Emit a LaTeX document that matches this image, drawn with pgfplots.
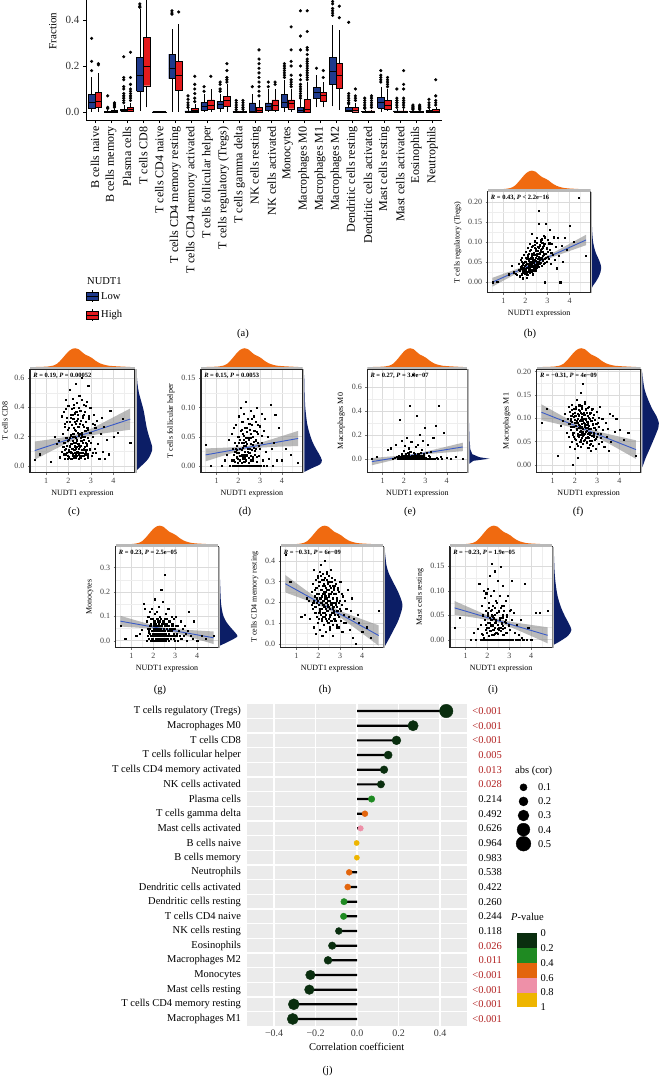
\documentclass[border=0pt]{standalone}
\usepackage{fontspec}
\setmainfont{Liberation Serif}
\usepackage{pgfplots}
\usepackage{pgfplotstable}
\pgfplotsset{compat=1.18}
\pgfplotsset{/pgf/number format/assume math mode=true}
\newcommand{\fs}[1]{\fontsize{#1}{#1}\selectfont}

\definecolor{lowc}{HTML}{1F3A8C}
\definecolor{highc}{HTML}{E31A1C}
\definecolor{orc}{HTML}{F06A10}
\definecolor{nvc}{HTML}{0C1E66}
\definecolor{regblue}{HTML}{3A5BC7}
\definecolor{pc0}{HTML}{0A2E0F}
\definecolor{pc2}{HTML}{1F8A22}
\definecolor{pc4}{HTML}{E3650C}
\definecolor{pc6}{HTML}{EE90A8}
\definecolor{pc8}{HTML}{EEB500}
\definecolor{pr}{HTML}{B22222}

% boxplot outliers (x = box centre, y = fraction)
\pgfplotstableread{
x y
-0.21 0.32
-0.21 0.22
-0.21 0.18
0.21 0.21
0.21 0.205
0.79 0.07
0.79 0.02
0.79 0.015
1.21 0.04
1.21 0.035
1.21 0.03
1.21 0.025
1.21 0.02
1.79 0.04
1.79 0.05
1.79 0.06
1.79 0.07
1.79 0.08
1.79 0.1
1.79 0.11
1.79 0.14
1.79 0.15
1.79 0.24
2.21 0.05
2.21 0.06
2.21 0.07
2.21 0.08
2.21 0.09
2.21 0.1
2.21 0.12
2.21 0.15
2.21 0.26
2.79 0.46
2.79 0.47
2.79 0.455
4.79 0.44
4.79 0.43
4.79 0.425
5.21 0.435
5.79 0.02
5.79 0.03
5.79 0.04
5.79 0.055
5.79 0.07
6.21 0.045
6.21 0.06
6.21 0.08
6.21 0.1
6.21 0.12
6.21 0.155
6.79 0.09
6.79 0.11
7.21 0.155
7.79 0.09
7.79 0.1
7.79 0.12
7.79 0.13
8.21 0.13
8.21 0.14
8.21 0.15
8.21 0.18
8.21 0.21
8.79 0.01
8.79 0.02
8.79 0.03
8.79 0.04
8.79 0.05
9.21 0.012
9.21 0.02
9.21 0.03
9.21 0.04
9.21 0.05
9.79 0.11
10.21 0.07
10.21 0.09
10.21 0.11
10.21 0.13
10.21 0.15
10.21 0.17
10.21 0.19
10.21 0.21
10.21 0.23
10.21 0.27
10.79 0.11
10.79 0.13
11.21 0.12
11.21 0.13
11.79 0.15
11.79 0.16
11.79 0.17
11.79 0.18
11.79 0.19
11.79 0.2
11.79 0.21
12.21 0.11
12.21 0.12
12.21 0.13
12.21 0.14
12.21 0.16
12.21 0.2
12.21 0.22
12.21 0.27
12.21 0.37
12.79 0.06
12.79 0.07
12.79 0.08
12.79 0.09
12.79 0.1
12.79 0.11
12.79 0.12
12.79 0.14
12.79 0.16
12.79 0.2
12.79 0.27
12.79 0.33
12.79 0.44
13.21 0.14
13.21 0.15
13.21 0.16
13.21 0.17
13.21 0.18
13.21 0.19
13.21 0.2
13.21 0.21
13.21 0.22
13.21 0.23
13.21 0.25
13.21 0.27
13.21 0.28
13.21 0.35
13.21 0.44
13.79 0.19
14.21 0.15
14.21 0.18
14.79 0.42
14.79 0.43
14.79 0.44
14.79 0.45
14.79 0.47
14.79 0.48
14.79 0.49
15.21 0.41
15.21 0.46
15.79 0.035
15.79 0.04
15.79 0.05
15.79 0.06
15.79 0.07
15.79 0.08
15.79 0.39
16.21 0.05
16.21 0.06
16.21 0.07
16.21 0.1
16.79 0.015
16.79 0.02
16.79 0.03
16.79 0.04
16.79 0.05
16.79 0.06
17.21 0.02
17.21 0.03
17.21 0.04
17.21 0.05
17.21 0.06
17.21 0.07
17.79 0.13
17.79 0.14
17.79 0.15
17.79 0.16
17.79 0.18
18.21 0.11
18.21 0.12
18.21 0.13
18.21 0.14
18.21 0.15
18.79 0.02
18.79 0.03
18.79 0.04
18.79 0.05
18.79 0.06
18.79 0.1
19.21 0.02
19.21 0.03
19.21 0.04
19.21 0.05
19.21 0.06
19.21 0.1
19.21 0.12
19.21 0.18
19.79 0.01
19.79 0.015
19.79 0.02
19.79 0.025
19.79 0.03
20.21 0.01
20.21 0.015
20.21 0.02
20.21 0.025
20.21 0.03
20.79 0.02
20.79 0.03
20.79 0.04
20.79 0.055
21.21 0.03
21.21 0.04
21.21 0.05
21.21 0.07
21.21 0.14
}\outl

% scatter data: NUDT1 expression (x) and immune fractions
\pgfplotstableread{
x b c d e f g h i
0.50 0.000 0.04 0.036 0.005 0.090 0.060 0.43 0.025
0.72 0.002 0.08 0.000 0.02 0.120 0.010 0.30 0.045
1.22 0.020 0.03 0.000 0.08 0.020 0.020 0.13 0.000
1.38 0.040 0.20 0.010 0.09 0.085 0.030 0.14 0.015
1.47 0.025 0.15 0.020 0.00 0.095 0.045 0.22 0.000
1.56 0.022 0.17 0.045 0.01 0.110 0.150 0.21 0.022
1.62 0.018 0.06 0.000 0.12 0.070 0.130 0.12 0.115
1.68 0.032 0.34 0.055 0.02 0.100 0.000 0.25 0.000
1.71 0.045 0.10 0.010 0.00 0.125 0.080 0.19 0.030
1.73 0.028 0.22 0.030 0.01 0.060 0.020 0.17 0.012
1.75 0.015 0.13 0.000 0.00 0.088 0.050 0.29 0.070
1.77 0.055 0.37 0.065 0.03 0.040 0.100 0.20 0.000
1.79 0.034 0.08 0.020 0.33 0.115 0.010 0.08 0.050
1.81 0.020 0.16 0.000 0.00 0.100 0.040 0.36 0.100
1.83 0.042 0.27 0.040 0.02 0.075 0.030 0.15 0.005
1.85 0.060 0.05 0.008 0.00 0.130 0.120 0.26 0.000
1.86 0.030 0.45 0.025 0.01 0.050 0.060 0.18 0.085
1.88 0.010 0.12 0.000 0.04 0.092 0.000 0.31 0.040
1.90 0.048 0.19 0.070 0.00 0.110 0.070 0.05 0.020
1.91 0.036 0.09 0.015 0.15 0.000 0.040 0.22 0.000
1.93 0.025 0.33 0.000 0.00 0.083 0.010 0.27 0.060
1.94 0.068 0.14 0.035 0.01 0.070 0.130 0.13 0.095
1.96 0.040 0.07 0.005 0.03 0.120 0.030 0.33 0.015
1.97 0.022 0.25 0.050 0.00 0.060 0.020 0.21 0.000
1.99 0.052 0.41 0.012 0.07 0.098 0.090 0.10 0.035
2.00 0.030 0.11 0.000 0.00 0.035 0.050 0.28 0.105
2.02 0.075 0.18 0.085 0.02 0.105 0.000 0.19 0.000
2.03 0.044 0.06 0.022 0.00 0.085 0.060 0.24 0.050
2.05 0.012 0.30 0.000 0.11 0.125 0.110 0.35 0.025
2.06 0.058 0.13 0.045 0.01 0.055 0.020 0.16 0.008
2.07 0.036 0.52 0.010 0.00 0.095 0.040 0.07 0.075
2.08 0.026 0.09 0.030 0.02 0.078 0.170 0.30 0.000
2.09 0.063 0.21 0.000 0.00 0.140 0.010 0.20 0.045
2.10 0.047 0.35 0.060 0.04 0.045 0.070 0.26 0.130
2.11 0.018 0.10 0.018 0.00 0.100 0.030 0.14 0.018
2.12 0.085 0.15 0.000 0.01 0.068 0.000 0.38 0.000
2.13 0.039 0.28 0.100 0.18 0.110 0.050 0.22 0.060
2.14 0.054 0.05 0.028 0.00 0.090 0.090 0.11 0.030
2.15 0.029 0.39 0.005 0.02 0.015 0.020 0.31 0.000
2.16 0.070 0.12 0.040 0.00 0.118 0.040 0.17 0.090
2.17 0.042 0.22 0.000 0.05 0.080 0.120 0.23 0.040
2.18 0.033 0.08 0.075 0.00 0.060 0.010 0.04 0.010
2.19 0.095 0.46 0.015 0.01 0.105 0.060 0.28 0.000
2.20 0.050 0.17 0.032 0.00 0.128 0.030 0.19 0.155
2.21 0.024 0.32 0.000 0.03 0.072 0.080 0.34 0.050
2.22 0.060 0.11 0.055 0.00 0.050 0.000 0.13 0.020
2.23 0.038 0.26 0.008 0.09 0.095 0.140 0.25 0.000
2.24 0.080 0.07 0.020 0.00 0.085 0.050 0.21 0.070
2.25 0.046 0.40 0.000 0.02 0.155 0.020 0.09 0.030
2.26 0.027 0.14 0.090 0.00 0.065 0.070 0.29 0.000
2.27 0.065 0.20 0.040 0.44 0.112 0.040 0.18 0.100
2.28 0.052 0.09 0.012 0.01 0.040 0.010 0.40 0.045
2.29 0.120 0.36 0.000 0.00 0.100 0.100 0.15 0.010
2.30 0.041 0.16 0.065 0.06 0.088 0.030 0.24 0.000
2.31 0.031 0.56 0.025 0.00 0.070 0.060 0.32 0.065
2.32 0.072 0.12 0.000 0.01 0.120 0.000 0.12 0.035
2.33 0.055 0.24 0.048 0.00 0.058 0.090 0.20 0.000
2.34 0.020 0.06 0.110 0.14 0.098 0.050 0.27 0.140
2.35 0.090 0.31 0.010 0.00 0.175 0.020 0.06 0.025
2.36 0.049 0.18 0.035 0.02 0.078 0.210 0.22 0.000
2.37 0.037 0.43 0.000 0.00 0.045 0.040 0.35 0.080
2.39 0.068 0.10 0.058 0.03 0.108 0.070 0.16 0.040
2.40 0.057 0.27 0.018 0.70 0.090 0.010 0.26 0.000
2.42 0.102 0.15 0.000 0.00 0.065 0.160 0.19 0.055
2.43 0.044 0.35 0.080 0.01 0.135 0.030 0.30 0.015
2.45 0.030 0.08 0.030 0.00 0.082 0.080 0.10 0.000
2.46 0.078 0.21 0.005 0.05 0.055 0.050 0.23 0.120
2.48 0.062 0.48 0.045 0.00 0.100 0.000 0.33 0.030
2.50 0.050 0.13 0.000 0.02 0.072 0.270 0.17 0.000
2.51 0.110 0.29 0.062 0.00 0.118 0.040 0.08 0.060
2.53 0.039 0.07 0.022 0.10 0.048 0.060 0.28 0.020
2.54 0.070 0.38 0.000 0.00 0.092 0.020 0.21 0.000
2.56 0.088 0.19 0.095 0.01 0.060 0.110 0.14 0.090
2.57 0.045 0.11 0.038 0.00 0.105 0.030 0.36 0.040
2.59 0.145 0.60 0.010 0.36 0.080 0.070 0.19 0.000
2.60 0.064 0.23 0.000 0.02 0.038 0.010 0.25 0.150
2.62 0.177 0.09 0.070 0.00 0.125 0.050 0.11 0.025
2.63 0.056 0.33 0.028 0.04 0.085 0.090 0.30 0.000
2.65 0.092 0.16 0.000 0.00 0.068 0.020 0.22 0.070
2.66 0.047 0.42 0.050 0.12 0.100 0.040 0.04 0.035
2.68 0.076 0.12 0.015 0.00 0.052 0.130 0.18 0.000
2.69 0.105 0.27 0.085 0.03 0.112 0.000 0.27 0.110
2.71 0.060 0.05 0.000 0.00 0.078 0.060 0.15 0.045
2.72 0.083 0.37 0.042 0.20 0.030 0.030 0.24 0.010
2.74 0.040 0.20 0.020 0.00 0.095 0.080 0.31 0.000
2.76 0.098 0.10 0.060 0.01 0.062 0.020 0.12 0.060
2.78 0.066 0.30 0.000 0.05 0.120 0.050 0.20 0.025
2.80 0.053 0.14 0.075 0.00 0.042 0.010 0.29 0.000
2.82 0.115 0.44 0.030 0.08 0.088 0.100 0.09 0.080
2.84 0.071 0.08 0.008 0.00 0.070 0.040 0.22 0.035
2.86 0.048 0.25 0.100 0.02 0.108 0.060 0.16 0.000
2.88 0.095 0.55 0.040 0.00 0.055 0.020 0.26 0.050
2.89 0.000 0.17 0.000 0.15 0.080 0.070 0.14 0.015
2.91 0.145 0.32 0.055 0.00 0.098 0.030 0.20 0.000
2.93 0.062 0.11 0.018 0.04 0.035 0.090 0.08 0.090
2.95 0.085 0.23 0.000 0.00 0.075 0.010 0.25 0.030
2.97 0.050 0.40 0.068 0.26 0.115 0.050 0.17 0.000
3.00 0.105 0.16 0.030 0.01 0.060 0.020 0.30 0.060
3.03 0.075 0.07 0.000 0.00 0.090 0.100 0.11 0.020
3.06 0.058 0.29 0.090 0.05 0.045 0.030 0.19 0.000
3.09 0.130 0.20 0.040 0.00 0.082 0.060 0.06 0.120
3.12 0.080 0.35 0.010 0.12 0.125 0.000 0.23 0.040
3.15 0.045 0.12 0.060 0.00 0.068 0.040 0.14 0.000
3.19 0.095 0.26 0.000 0.02 0.050 0.020 0.21 0.055
3.23 0.068 0.09 0.080 0.00 0.100 0.080 0.10 0.015
3.27 0.112 0.31 0.025 0.06 0.075 0.010 0.17 0.000
3.32 0.055 0.15 0.000 0.00 0.040 0.050 0.26 0.030
3.37 0.088 0.05 0.050 0.18 0.090 0.020 0.13 0.000
3.42 0.035 0.22 0.012 0.00 0.060 0.060 0.07 0.010
3.48 0.110 0.33 0.105 0.28 0.078 0.030 0.16 0.000
3.53 0.065 0.10 0.030 0.01 0.030 0.000 0.22 0.040
3.58 0.000 0.27 0.000 0.00 0.110 0.040 0.03 0.005
3.63 0.090 0.05 0.040 0.44 0.050 0.120 0.12 0.000
3.70 0.050 0.18 0.088 0.02 0.105 0.020 0.00 0.115
3.78 0.110 0.08 0.010 0.00 0.072 0.010 0.14 0.000
3.86 0.080 0.38 0.065 0.22 0.100 0.080 0.10 0.025
4.00 0.140 0.20 0.010 0.01 0.075 0.000 0.06 0.000
4.20 0.100 0.23 0.030 0.00 0.055 0.020 0.08 0.055
4.40 0.210 0.32 0.020 0.02 0.070 0.010 0.03 0.055
4.75 0.065 0.16 0.005 0.00 0.020 0.020 0.16 0.060
1.84 0.035 0.11 0.000 0.01 0.105 0.050 0.23 0.000
1.92 0.028 0.30 0.028 0.00 0.070 0.000 0.20 0.030
1.98 0.050 0.05 0.000 0.02 0.113 0.030 0.32 0.000
2.04 0.020 0.19 0.050 0.00 0.090 0.080 0.15 0.065
2.135 0.058 0.12 0.000 0.03 0.062 0.010 0.26 0.000
2.165 0.034 0.35 0.020 0.00 0.128 0.040 0.12 0.028
2.205 0.046 0.07 0.000 0.01 0.080 0.000 0.21 0.000
2.245 0.026 0.22 0.045 0.00 0.095 0.060 0.29 0.048
2.275 0.072 0.13 0.000 0.06 0.050 0.020 0.18 0.000
2.315 0.040 0.29 0.015 0.00 0.110 0.030 0.23 0.012
2.355 0.052 0.09 0.000 0.02 0.068 0.050 0.14 0.000
2.385 0.033 0.17 0.038 0.00 0.100 0.010 0.31 0.035
2.44 0.085 0.40 0.000 0.01 0.085 0.040 0.18 0.000
2.47 0.043 0.14 0.022 0.00 0.120 0.070 0.24 0.022
2.52 0.067 0.06 0.000 0.04 0.058 0.020 0.13 0.000
2.58 0.038 0.21 0.048 0.00 0.090 0.060 0.20 0.045
2.64 0.074 0.34 0.000 0.01 0.070 0.010 0.28 0.000
2.70 0.058 0.11 0.032 0.00 0.045 0.040 0.16 0.028
2.77 0.087 0.24 0.000 0.03 0.095 0.020 0.11 0.000
2.83 0.046 0.15 0.058 0.00 0.065 0.050 0.21 0.040
1.80 0.038 0.13 0.010 0.00 0.095 0.035 0.21 0.010
1.82 0.050 0.29 0.000 0.02 0.082 0.060 0.18 0.000
1.87 0.027 0.08 0.030 0.00 0.118 0.020 0.27 0.040
1.89 0.044 0.39 0.000 0.01 0.066 0.090 0.15 0.000
1.95 0.033 0.17 0.022 0.00 0.104 0.010 0.24 0.025
2.01 0.061 0.10 0.000 0.03 0.091 0.040 0.30 0.000
2.015 0.025 0.26 0.040 0.00 0.056 0.070 0.12 0.055
2.055 0.047 0.14 0.000 0.01 0.121 0.030 0.22 0.000
2.085 0.069 0.05 0.018 0.00 0.076 0.000 0.17 0.035
2.115 0.036 0.33 0.000 0.02 0.099 0.060 0.33 0.000
2.145 0.054 0.09 0.062 0.00 0.042 0.020 0.20 0.018
2.175 0.028 0.20 0.000 0.01 0.108 0.050 0.26 0.000
2.195 0.078 0.12 0.012 0.00 0.087 0.010 0.15 0.062
2.215 0.043 0.42 0.000 0.04 0.064 0.090 0.24 0.000
2.235 0.059 0.16 0.035 0.00 0.116 0.030 0.09 0.028
2.255 0.032 0.06 0.000 0.01 0.073 0.060 0.31 0.000
2.265 0.066 0.25 0.052 0.00 0.097 0.000 0.19 0.044
2.285 0.045 0.11 0.000 0.02 0.055 0.040 0.22 0.000
2.295 0.088 0.30 0.008 0.00 0.103 0.020 0.13 0.020
2.305 0.039 0.08 0.000 0.00 0.081 0.080 0.28 0.000
2.325 0.062 0.19 0.042 0.01 0.126 0.010 0.17 0.052
2.345 0.051 0.37 0.000 0.00 0.062 0.050 0.25 0.000
2.365 0.029 0.13 0.020 0.03 0.094 0.030 0.11 0.015
2.375 0.074 0.07 0.000 0.00 0.071 0.000 0.34 0.000
2.395 0.048 0.23 0.066 0.01 0.113 0.060 0.20 0.038
2.41 0.057 0.10 0.000 0.00 0.052 0.020 0.16 0.000
2.425 0.093 0.32 0.025 0.02 0.089 0.040 0.29 0.075
2.435 0.041 0.15 0.000 0.00 0.107 0.010 0.21 0.000
2.455 0.068 0.05 0.048 0.00 0.068 0.070 0.12 0.030
2.465 0.053 0.27 0.000 0.05 0.131 0.030 0.26 0.000
2.475 0.082 0.12 0.014 0.00 0.079 0.050 0.18 0.012
2.49 0.036 0.38 0.000 0.01 0.058 0.000 0.23 0.000
2.505 0.071 0.09 0.072 0.00 0.097 0.020 0.07 0.058
2.515 0.047 0.22 0.000 0.02 0.074 0.090 0.30 0.000
2.525 0.099 0.14 0.030 0.00 0.112 0.040 0.14 0.025
2.545 0.058 0.06 0.000 0.00 0.049 0.010 0.24 0.000
2.555 0.042 0.31 0.055 0.03 0.086 0.060 0.19 0.042
2.565 0.079 0.17 0.000 0.00 0.122 0.030 0.11 0.000
2.585 0.063 0.09 0.018 0.01 0.067 0.000 0.27 0.018
2.595 0.052 0.45 0.000 0.00 0.092 0.050 0.20 0.000
2.615 0.087 0.20 0.080 0.00 0.058 0.020 0.15 0.065
2.625 0.045 0.11 0.000 0.02 0.101 0.070 0.32 0.000
2.645 0.072 0.28 0.036 0.00 0.077 0.040 0.09 0.032
2.655 0.058 0.07 0.000 0.01 0.043 0.010 0.22 0.000
2.675 0.101 0.18 0.010 0.00 0.109 0.060 0.17 0.050
2.685 0.049 0.35 0.000 0.04 0.064 0.030 0.26 0.000
2.705 0.081 0.13 0.060 0.00 0.095 0.000 0.12 0.022
2.725 0.062 0.24 0.000 0.00 0.070 0.080 0.20 0.000
2.745 0.107 0.08 0.026 0.02 0.118 0.020 0.28 0.070
2.765 0.055 0.16 0.000 0.00 0.052 0.050 0.14 0.000
2.785 0.077 0.41 0.044 0.01 0.086 0.010 0.19 0.036
2.81 0.068 0.11 0.000 0.00 0.101 0.040 0.24 0.000
2.835 0.092 0.26 0.016 0.03 0.061 0.070 0.08 0.015
2.855 0.059 0.06 0.000 0.00 0.079 0.020 0.18 0.000
2.875 0.112 0.19 0.070 0.00 0.097 0.050 0.27 0.048
2.92 0.070 0.34 0.000 0.02 0.057 0.030 0.13 0.000
2.96 0.083 0.12 0.034 0.00 0.088 0.000 0.21 0.028
3.01 0.064 0.23 0.000 0.01 0.067 0.060 0.16 0.000
3.08 0.097 0.09 0.052 0.00 0.102 0.020 0.24 0.062
3.17 0.073 0.28 0.000 0.03 0.058 0.040 0.10 0.000
}\scd

% confidence bands of the linear fits (upper edge left->right, lower edge right->left)
\pgfplotstableread{
xp bp cp dp ep fp gp hp ip
0.5 0.011 0.167 0.030 0.008 0.130 0.102 0.332 0.079
1.0 0.0208 0.1776 0.0307 0.0153 0.1166 0.0888 0.2926 0.0691
1.5 0.0306 0.1888 0.0315 0.0228 0.1033 0.0758 0.2537 0.0593
2.0 0.0408 0.2017 0.0326 0.0312 0.0904 0.0634 0.2159 0.0499
2.45 0.0509 0.219 0.0346 0.0415 0.0805 0.0543 0.1858 0.0428
3.0 0.0659 0.2544 0.0396 0.0609 0.0722 0.0481 0.1584 0.0372
3.5 0.0805 0.2926 0.0452 0.0814 0.0663 0.0447 0.1378 0.0335
4.0 0.0954 0.3323 0.0510 0.1028 0.0609 0.0418 0.1181 0.0302
4.75 0.1179 0.3925 0.0599 0.1351 0.0529 0.0377 0.0891 0.0254
4.75 0.0921 0.2475 0.0341 0.0649 0.0131 -0.0137 -0.0091 -0.0074
4.0 0.0776 0.2319 0.0332 0.0542 0.0333 0.0062 0.0501 0.0076
3.5 0.0677 0.221 0.0324 0.0468 0.0467 0.0193 0.0892 0.0173
3.0 0.0577 0.2086 0.0314 0.0387 0.0596 0.0319 0.1274 0.0268
2.45 0.0455 0.1882 0.0292 0.0265 0.0721 0.0433 0.1648 0.0358
2.0 0.0334 0.1601 0.0252 0.011 0.079 0.0486 0.1877 0.0405
1.5 0.0188 0.1224 0.0197 -0.0094 0.0851 0.0522 0.2087 0.0443
1.0 0.0040 0.083 0.0139 -0.0306 0.0906 0.0552 0.2286 0.0477
0.5 -0.011 0.043 0.008 -0.052 0.096 0.058 0.248 0.051
}\bnd

% marginal densities
\pgfplotstableread{
x d
0.45 0
0.8 0.01
1.1 0.03
1.3 0.07
1.5 0.18
1.7 0.42
1.9 0.70
2.05 0.88
2.2 0.98
2.3 1.0
2.45 0.95
2.6 0.80
2.75 0.66
2.9 0.58
3.05 0.48
3.2 0.34
3.4 0.20
3.6 0.12
3.8 0.07
4.0 0.05
4.3 0.03
4.8 0
}\topden
\pgfplotstableread{
d y
0 -0.015
0.15 -0.008
0.4 0.0
0.7 0.012
0.92 0.025
1.0 0.035
0.9 0.047
0.68 0.06
0.45 0.072
0.28 0.085
0.15 0.1
0.07 0.12
0.03 0.14
0.01 0.17
0 0.21
}\denB
\pgfplotstableread{
d y
0 -0.03
0.3 0.0
0.75 0.05
1.0 0.11
0.95 0.15
0.8 0.2
0.65 0.26
0.55 0.32
0.45 0.38
0.3 0.44
0.15 0.5
0.06 0.56
0 0.64
}\denC
\pgfplotstableread{
d y
0 -0.01
0.4 -0.004
0.9 0.003
1.0 0.01
0.85 0.02
0.65 0.03
0.45 0.042
0.3 0.055
0.17 0.07
0.08 0.09
0.03 0.11
0 0.155
}\denD
\pgfplotstableread{
d y
0 -0.04
0.2 -0.015
1.0 0.002
0.5 0.015
0.15 0.04
0.05 0.08
0.02 0.15
0 0.3
}\denE
\pgfplotstableread{
d y
0 -0.005
0.2 0.015
0.45 0.035
0.75 0.06
0.97 0.08
1.0 0.09
0.85 0.105
0.6 0.12
0.35 0.14
0.15 0.16
0.05 0.18
0 0.2
}\denF
\pgfplotstableread{
d y
0 -0.02
0.45 -0.005
0.9 0.012
1.0 0.02
0.85 0.035
0.6 0.055
0.38 0.075
0.2 0.1
0.1 0.13
0.04 0.17
0 0.25
}\denG
\pgfplotstableread{
d y
0 -0.01
0.2 0.02
0.45 0.06
0.75 0.11
0.95 0.16
1.0 0.19
0.9 0.22
0.7 0.26
0.45 0.3
0.22 0.34
0.08 0.38
0 0.44
}\denH
\pgfplotstableread{
d y
0 -0.01
0.35 -0.003
0.8 0.008
1.0 0.02
0.85 0.033
0.6 0.05
0.38 0.068
0.2 0.09
0.09 0.115
0.03 0.14
0 0.17
}\denI

% lollipop: row position, correlation, dot radius (pt)
\pgfplotstableread{
pos cor
1 -0.31
2 -0.305
3 -0.23
4 -0.225
5 -0.14
6 -0.12
7 -0.088
8 -0.065
9 -0.063
10 -0.045
11 -0.038
12 -0.001
13 -0.002
14 0.017
15 0.038
16 0.07
17 0.115
18 0.13
19 0.15
20 0.19
21 0.27
22 0.43
}\lolS
\pgfplotstableread{
pos cor r
1 -0.31 5.55
2 -0.305 5.5
3 -0.23 4.79
4 -0.225 4.74
5 -0.14 3.93
6 -0.12 3.74
7 -0.088 3.44
17 0.115 3.69
18 0.13 3.84
19 0.15 4.03
20 0.19 4.41
21 0.27 5.17
22 0.43 6.69
}\kA
\pgfplotstableread{
pos cor r
8 -0.065 3.22
9 -0.063 3.2
16 0.07 3.27
}\kB
\pgfplotstableread{
pos cor r
10 -0.045 3.03
11 -0.038 2.96
15 0.038 2.96
}\kC
\pgfplotstableread{
pos cor r
14 0.017 2.76
}\kD
\pgfplotstableread{
pos cor r
12 -0.001 2.61
13 -0.002 2.62
}\kE
\pgfplotstableread{
x y r
0 1 3.55
0 2 4.5
0 3 5.45
0 4 6.4
0 5 7.35
}\szleg

\pgfplotsset{
  scat/.style={scale only axis, anchor=north west, xmin=0.2875, xmax=4.9625,
    xtick={1,2,3,4}, minor xtick={0.5,1.5,2.5,3.5,4.5}, minor y tick num=1,
    grid=both, major grid style={gray!28, line width=0.45pt},
    minor grid style={gray!13, line width=0.3pt},
    axis line style={black!85, line width=1.1pt},
    xtick pos=left, ytick pos=left, tick align=outside,
    major tick length=2pt, minor tick length=0pt,
    tick style={black!55, line width=0.4pt},
    tick label style={font=\fs{8}, text=black!75},
    label style={font=\fs{8}},
    xlabel={NUDT1 expression}},
  two/.style={yticklabel style={/pgf/number format/fixed, /pgf/number format/fixed zerofill, /pgf/number format/precision=2}},
  one/.style={yticklabel style={/pgf/number format/fixed, /pgf/number format/fixed zerofill, /pgf/number format/precision=1}},
  pts/.style={only marks, mark=square*, mark size=0.55pt, black},
  bandc/.style={fill=black!45, fill opacity=0.6, draw=none},
  regl/.style={line width=0.9pt, color=regblue},
  topd/.style={scale only axis, anchor=south west, height=22pt, xmin=0.2875, xmax=4.9625, ymin=-0.12, ymax=1.05, hide axis},
  rightd/.style={scale only axis, anchor=north west, xmin=-0.1, xmax=1.05, hide axis},
  strip/.style={fill=gray!55, draw=none},
}
\tikzset{rtxt/.style={font=\fs{6.5}\bfseries, anchor=north west, inner sep=0pt}}

% box: left, centre, right, colour, lower whisker, Q1, median, Q3, upper whisker
\newcommand{\bx}[9]{%
\addplot[forget plot, black, line width=0.45pt] coordinates {(#2,#5) (#2,#6)};
\addplot[forget plot, black, line width=0.45pt] coordinates {(#2,#8) (#2,#9)};
\addplot[forget plot, fill=#4, draw=black, line width=0.45pt] coordinates {(#1,#6) (#3,#6) (#3,#8) (#1,#8) (#1,#6)};
\addplot[forget plot, black, line width=1.1pt] coordinates {(#1,#7) (#3,#7)};}

\begin{document}
\begin{tikzpicture}
\path[use as bounding box, fill=white] (0,0) rectangle (660pt,-1078pt);

% ---------------- (a) boxplots ----------------
\begin{axis}[scale only axis, at={(86pt,0pt)}, anchor=north west, width=356pt, height=120pt,
  xmin=-0.56, xmax=21.6, ymin=-0.035, ymax=0.487, clip=false,
  axis line style={draw=none}, xtick pos=left, ytick pos=left,
  xtick={0,...,21},
  xticklabels={B cells naive, B cells memory, Plasma cells, T cells CD8, T cells CD4 naive, T cells CD4 memory resting, T cells CD4 memory activated, T cells follicular helper, T cells regulatory (Tregs), T cells gamma delta, NK cells resting, NK cells activated, Monocytes, Macrophages M0, Macrophages M1, Macrophages M2, Dendritic cells resting, Dendritic cells activated, Mast cells resting, Mast cells activated, Eosinophils, Neutrophils},
  xticklabel style={rotate=90, anchor=east, font=\fs{12}},
  ytick={0,0.2,0.4}, yticklabels={0.0,0.2,0.4},
  yticklabel style={font=\fs{11}, text=black!80},
  tick align=outside, major tick length=3pt, tick style={black, line width=0.5pt},
  ylabel={Fraction}, ylabel style={font=\fs{11}, at={(axis description cs:-0.073,0.74)}, anchor=south},
  legend style={at={(axis description cs:0.0,-1.4167)}, anchor=north west, draw=none, fill=none, font=\fs{10.5}, row sep=6pt, inner sep=0pt, /tikz/every even column/.append style={column sep=4pt}},
  legend cell align=left]
\addplot[forget plot, black, line width=0.8pt] coordinates {(-0.56,0.487) (-0.56,-0.035) (21.6,-0.035)};
\bx{-0.41}{-0.21}{-0.01}{lowc}{0}{0.017}{0.043}{0.075}{0.15}
\bx{0.01}{0.21}{0.41}{highc}{0}{0.02}{0.046}{0.085}{0.17}
\bx{0.59}{0.79}{0.99}{lowc}{0}{0}{0.001}{0.003}{0.008}
\bx{1.01}{1.21}{1.41}{highc}{0}{0}{0.002}{0.006}{0.015}
\bx{1.59}{1.79}{1.99}{lowc}{0}{0.003}{0.006}{0.012}{0.03}
\bx{2.01}{2.21}{2.41}{highc}{0}{0.005}{0.01}{0.02}{0.04}
\bx{2.59}{2.79}{2.99}{lowc}{0.005}{0.089}{0.157}{0.236}{0.45}
\bx{3.01}{3.21}{3.41}{highc}{0.02}{0.114}{0.197}{0.324}{0.487}
\bx{3.59}{3.79}{3.99}{lowc}{0}{0}{0}{0.001}{0.002}
\bx{4.01}{4.21}{4.41}{highc}{0}{0}{0}{0.001}{0.002}
\bx{4.59}{4.79}{4.99}{lowc}{0}{0.145}{0.19}{0.252}{0.363}
\bx{5.01}{5.21}{5.41}{highc}{0}{0.094}{0.16}{0.219}{0.384}
\bx{5.59}{5.79}{5.99}{lowc}{0}{0}{0.001}{0.005}{0.012}
\bx{6.01}{6.21}{6.41}{highc}{0}{0.001}{0.004}{0.015}{0.035}
\bx{6.59}{6.79}{6.99}{lowc}{0}{0.007}{0.025}{0.042}{0.08}
\bx{7.01}{7.21}{7.41}{highc}{0}{0.01}{0.03}{0.053}{0.1}
\bx{7.59}{7.79}{7.99}{lowc}{0}{0.017}{0.032}{0.046}{0.08}
\bx{8.01}{8.21}{8.41}{highc}{0}{0.027}{0.05}{0.068}{0.12}
\bx{8.59}{8.79}{8.99}{lowc}{0}{0}{0}{0.003}{0.007}
\bx{9.01}{9.21}{9.41}{highc}{0}{0}{0}{0.003}{0.007}
\bx{9.59}{9.79}{9.99}{lowc}{0}{0}{0.002}{0.04}{0.08}
\bx{10.01}{10.21}{10.41}{highc}{0}{0}{0.005}{0.02}{0.05}
\bx{10.59}{10.79}{10.99}{lowc}{0}{0.006}{0.022}{0.04}{0.1}
\bx{11.01}{11.21}{11.41}{highc}{0}{0.006}{0.03}{0.053}{0.1}
\bx{11.59}{11.79}{11.99}{lowc}{0}{0.022}{0.042}{0.078}{0.14}
\bx{12.01}{12.21}{12.41}{highc}{0}{0.014}{0.035}{0.053}{0.1}
\bx{12.59}{12.79}{12.99}{lowc}{0}{0}{0.005}{0.02}{0.05}
\bx{13.01}{13.21}{13.41}{highc}{0}{0}{0.01}{0.056}{0.13}
\bx{13.59}{13.79}{13.99}{lowc}{0.02}{0.058}{0.085}{0.108}{0.16}
\bx{14.01}{14.21}{14.41}{highc}{0.02}{0.046}{0.07}{0.085}{0.13}
\bx{14.59}{14.79}{14.99}{lowc}{0.024}{0.122}{0.176}{0.237}{0.377}
\bx{15.01}{15.21}{15.41}{highc}{0.01}{0.104}{0.157}{0.21}{0.358}
\bx{15.59}{15.79}{15.99}{lowc}{0}{0.002}{0.006}{0.02}{0.03}
\bx{16.01}{16.21}{16.41}{highc}{0}{0.001}{0.005}{0.02}{0.04}
\bx{16.59}{16.79}{16.99}{lowc}{0}{0}{0.001}{0.003}{0.008}
\bx{17.01}{17.21}{17.41}{highc}{0}{0}{0.001}{0.005}{0.01}
\bx{17.59}{17.79}{17.99}{lowc}{0}{0.017}{0.04}{0.065}{0.11}
\bx{18.01}{18.21}{18.41}{highc}{0.005}{0.01}{0.028}{0.05}{0.1}
\bx{18.59}{18.79}{18.99}{lowc}{0}{0}{0}{0.005}{0.012}
\bx{19.01}{19.21}{19.41}{highc}{0}{0}{0}{0.005}{0.012}
\bx{19.59}{19.79}{19.99}{lowc}{0}{0}{0}{0.002}{0.005}
\bx{20.01}{20.21}{20.41}{highc}{0}{0}{0}{0.002}{0.005}
\bx{20.59}{20.79}{20.99}{lowc}{0}{0}{0.002}{0.007}{0.015}
\bx{21.01}{21.21}{21.41}{highc}{0}{0}{0.003}{0.01}{0.02}
\addplot[forget plot, only marks, mark=*, mark size=1.4pt, black] table[x=x,y=y]{\outl};
\addlegendimage{legend image code/.code={\draw[fill=lowc, line width=0.45pt] (0pt,-4pt) rectangle (12pt,4pt); \draw[line width=1pt] (0pt,0pt) -- (12pt,0pt); \draw[line width=0.45pt] (6pt,4pt) -- (6pt,6pt); \draw[line width=0.45pt] (6pt,-4pt) -- (6pt,-6pt);}}
\addlegendentry{Low}
\addlegendimage{legend image code/.code={\draw[fill=highc, line width=0.45pt] (0pt,-4pt) rectangle (12pt,4pt); \draw[line width=1pt] (0pt,0pt) -- (12pt,0pt); \draw[line width=0.45pt] (6pt,4pt) -- (6pt,6pt); \draw[line width=0.45pt] (6pt,-4pt) -- (6pt,-6pt);}}
\addlegendentry{High}
\end{axis}
\node[anchor=base west, font=\fs{10.5}, inner sep=0pt] at (87pt,-284pt) {NUDT1};
\node[font=\fs{10.5}] at (243pt,-334pt) {(a)};

% ---------------- (b) Tregs ----------------
\begin{axis}[scat, two, at={(487.7pt,-191.7pt)}, width=103pt, height=101pt, ymin=-0.026, ymax=0.225,
  ytick={0,0.05,0.1,0.15,0.2}, ylabel={T cells regulatory (Tregs)}]
\addplot[pts] table[x=x,y=b]{\scd};
\addplot[bandc] table[x=xp,y=bp]{\bnd};
\addplot[regl] coordinates {(0.5,0.0) (4.75,0.105)};
\node[rtxt] at (rel axis cs:0.03,0.965) {\textit{R} = 0.43, \textit{P} < 2.2e−16};
\end{axis}
\begin{axis}[topd, at={(487.7pt,-191.7pt)}, width=103pt]
\addplot[fill=orc, draw=none, smooth] table[x=x,y=d]{\topden};
\addplot[strip] coordinates {(0.2875,-0.12) (4.9625,-0.12) (4.9625,0) (0.2875,0)};
\end{axis}
\begin{axis}[rightd, at={(590.7pt,-191.7pt)}, width=11pt, height=101pt, ymin=-0.026, ymax=0.225]
\addplot[fill=nvc, draw=none, smooth] table[x=d,y=y]{\denB};
\addplot[strip] coordinates {(-0.1,-0.026) (0,-0.026) (0,0.225) (-0.1,0.225)};
\end{axis}
\node[font=\fs{10.5}] at (530pt,-334pt) {(b)};

% ---------------- (c) CD8 ----------------
\begin{axis}[scat, one, at={(30pt,-369.3pt)}, width=105pt, height=103.4pt, ymin=-0.046, ymax=0.66,
  ytick={0,0.2,0.4,0.6}, ylabel={T cells CD8}]
\addplot[pts] table[x=x,y=c]{\scd};
\addplot[bandc] table[x=xp,y=cp]{\bnd};
\addplot[regl] coordinates {(0.5,0.105) (4.75,0.32)};
\node[rtxt] at (rel axis cs:0.03,0.965) {\textit{R} = 0.19, \textit{P} = 0.00052};
\end{axis}
\begin{axis}[topd, at={(30pt,-369.3pt)}, width=105pt]
\addplot[fill=orc, draw=none, smooth] table[x=x,y=d]{\topden};
\addplot[strip] coordinates {(0.2875,-0.12) (4.9625,-0.12) (4.9625,0) (0.2875,0)};
\end{axis}
\begin{axis}[rightd, at={(135pt,-369.3pt)}, width=18pt, height=103.4pt, ymin=-0.046, ymax=0.66]
\addplot[fill=nvc, draw=none, smooth] table[x=d,y=y]{\denC};
\addplot[strip] coordinates {(-0.1,-0.046) (0,-0.046) (0,0.66) (-0.1,0.66)};
\end{axis}
\node[font=\fs{10.5}] at (74pt,-512pt) {(c)};

% ---------------- (d) Tfh ----------------
\begin{axis}[scat, two, at={(201pt,-369.3pt)}, width=101.7pt, height=103.4pt, ymin=-0.0114, ymax=0.165,
  ytick={0,0.05,0.1,0.15}, ylabel={T cells follicular helper}]
\addplot[pts] table[x=x,y=d]{\scd};
\addplot[bandc] table[x=xp,y=dp]{\bnd};
\addplot[regl] coordinates {(0.5,0.019) (4.75,0.047)};
\node[rtxt] at (rel axis cs:0.03,0.965) {\textit{R} = 0.15, \textit{P} = 0.0053};
\end{axis}
\begin{axis}[topd, at={(201pt,-369.3pt)}, width=101.7pt]
\addplot[fill=orc, draw=none, smooth] table[x=x,y=d]{\topden};
\addplot[strip] coordinates {(0.2875,-0.12) (4.9625,-0.12) (4.9625,0) (0.2875,0)};
\end{axis}
\begin{axis}[rightd, at={(302.7pt,-369.3pt)}, width=20pt, height=103.4pt, ymin=-0.0114, ymax=0.165]
\addplot[fill=nvc, draw=none, smooth] table[x=d,y=y]{\denD};
\addplot[strip] coordinates {(-0.1,-0.0114) (0,-0.0114) (0,0.165) (-0.1,0.165)};
\end{axis}
\node[font=\fs{10.5}] at (245pt,-512pt) {(d)};

% ---------------- (e) M0 ----------------
\begin{axis}[scat, one, at={(367.3pt,-369.3pt)}, width=100pt, height=103.4pt, ymin=-0.114, ymax=0.745,
  ytick={0,0.2,0.4,0.6}, ylabel={Macrophages M0}]
\addplot[pts] table[x=x,y=e]{\scd};
\addplot[bandc] table[x=xp,y=ep]{\bnd};
\addplot[regl] coordinates {(0.5,-0.022) (4.75,0.1)};
\node[rtxt] at (rel axis cs:0.03,0.965) {\textit{R} = 0.27, \textit{P} = 3.9e−07};
\end{axis}
\begin{axis}[topd, at={(367.3pt,-369.3pt)}, width=100pt]
\addplot[fill=orc, draw=none, smooth] table[x=x,y=d]{\topden};
\addplot[strip] coordinates {(0.2875,-0.12) (4.9625,-0.12) (4.9625,0) (0.2875,0)};
\end{axis}
\begin{axis}[rightd, at={(467.3pt,-369.3pt)}, width=23pt, height=103.4pt, ymin=-0.114, ymax=0.745]
\addplot[fill=nvc, draw=none] table[x=d,y=y]{\denE};
\addplot[strip] coordinates {(-0.1,-0.114) (0,-0.114) (0,0.745) (-0.1,0.745)};
\end{axis}
\node[font=\fs{10.5}] at (410pt,-512pt) {(e)};

% ---------------- (f) M1 ----------------
\begin{axis}[scat, two, at={(536.7pt,-369.3pt)}, width=104pt, height=103.4pt, ymin=-0.0165, ymax=0.205,
  ytick={0,0.05,0.1,0.15,0.2}, ylabel={Macrophages M1}]
\addplot[pts] table[x=x,y=f]{\scd};
\addplot[bandc] table[x=xp,y=fp]{\bnd};
\addplot[regl] coordinates {(0.5,0.113) (4.75,0.033)};
\node[rtxt] at (rel axis cs:0.03,0.965) {\textit{R} = −0.31, \textit{P} = 4e−09};
\end{axis}
\begin{axis}[topd, at={(536.7pt,-369.3pt)}, width=104pt]
\addplot[fill=orc, draw=none, smooth] table[x=x,y=d]{\topden};
\addplot[strip] coordinates {(0.2875,-0.12) (4.9625,-0.12) (4.9625,0) (0.2875,0)};
\end{axis}
\begin{axis}[rightd, at={(640.7pt,-369.3pt)}, width=19pt, height=103.4pt, ymin=-0.0165, ymax=0.205]
\addplot[fill=nvc, draw=none, smooth] table[x=d,y=y]{\denF};
\addplot[strip] coordinates {(-0.1,-0.0165) (0,-0.0165) (0,0.205) (-0.1,0.205)};
\end{axis}
\node[font=\fs{10.5}] at (578pt,-512pt) {(f)};

% ---------------- (g) Monocytes ----------------
\begin{axis}[scat, one, at={(115.7pt,-546.7pt)}, width=102.6pt, height=101pt, ymin=-0.0287, ymax=0.385,
  ytick={0,0.1,0.2,0.3}, ylabel={Monocytes}]
\addplot[pts] table[x=x,y=g]{\scd};
\addplot[bandc] table[x=xp,y=gp]{\bnd};
\addplot[regl] coordinates {(0.5,0.08) (4.75,0.012)};
\node[rtxt] at (rel axis cs:0.03,0.965) {\textit{R} = 0.23, \textit{P} = 2.5e−05};
\end{axis}
\begin{axis}[topd, at={(115.7pt,-546.7pt)}, width=102.6pt]
\addplot[fill=orc, draw=none, smooth] table[x=x,y=d]{\topden};
\addplot[strip] coordinates {(0.2875,-0.12) (4.9625,-0.12) (4.9625,0) (0.2875,0)};
\end{axis}
\begin{axis}[rightd, at={(218.3pt,-546.7pt)}, width=20pt, height=101pt, ymin=-0.0287, ymax=0.385]
\addplot[fill=nvc, draw=none, smooth] table[x=d,y=y]{\denG};
\addplot[strip] coordinates {(-0.1,-0.0287) (0,-0.0287) (0,0.385) (-0.1,0.385)};
\end{axis}
\node[font=\fs{10.5}] at (160pt,-690pt) {(g)};

% ---------------- (h) CD4 memory resting ----------------
\begin{axis}[scat, one, at={(280.7pt,-546.7pt)}, width=102.6pt, height=101pt, ymin=-0.019, ymax=0.469,
  ytick={0,0.1,0.2,0.3,0.4}, ylabel={T cells CD4 memory resting}]
\addplot[pts] table[x=x,y=h]{\scd};
\addplot[bandc] table[x=xp,y=hp]{\bnd};
\addplot[regl] coordinates {(0.5,0.29) (4.75,0.04)};
\node[rtxt] at (rel axis cs:0.03,0.965) {\textit{R} = −0.31, \textit{P} = 6e−09};
\end{axis}
\begin{axis}[topd, at={(280.7pt,-546.7pt)}, width=102.6pt]
\addplot[fill=orc, draw=none, smooth] table[x=x,y=d]{\topden};
\addplot[strip] coordinates {(0.2875,-0.12) (4.9625,-0.12) (4.9625,0) (0.2875,0)};
\end{axis}
\begin{axis}[rightd, at={(383.3pt,-546.7pt)}, width=20pt, height=101pt, ymin=-0.019, ymax=0.469]
\addplot[fill=nvc, draw=none, smooth] table[x=d,y=y]{\denH};
\addplot[strip] coordinates {(-0.1,-0.019) (0,-0.019) (0,0.469) (-0.1,0.469)};
\end{axis}
\node[font=\fs{10.5}] at (325pt,-690pt) {(h)};

% ---------------- (i) Mast cells resting ----------------
\begin{axis}[scat, two, at={(450pt,-546.7pt)}, width=102.3pt, height=101pt, ymin=-0.0163, ymax=0.19,
  ytick={0,0.05,0.1,0.15}, ylabel={Mast cells resting}]
\addplot[pts] table[x=x,y=i]{\scd};
\addplot[bandc] table[x=xp,y=ip]{\bnd};
\addplot[regl] coordinates {(0.5,0.065) (4.75,0.009)};
\node[rtxt] at (rel axis cs:0.03,0.965) {\textit{R} = −0.23, \textit{P} = 1.9e−05};
\end{axis}
\begin{axis}[topd, at={(450pt,-546.7pt)}, width=102.3pt]
\addplot[fill=orc, draw=none, smooth] table[x=x,y=d]{\topden};
\addplot[strip] coordinates {(0.2875,-0.12) (4.9625,-0.12) (4.9625,0) (0.2875,0)};
\end{axis}
\begin{axis}[rightd, at={(552.3pt,-546.7pt)}, width=20pt, height=101pt, ymin=-0.0163, ymax=0.19]
\addplot[fill=nvc, draw=none, smooth] table[x=d,y=y]{\denI};
\addplot[strip] coordinates {(-0.1,-0.0163) (0,-0.0163) (0,0.19) (-0.1,0.19)};
\end{axis}
\node[font=\fs{10.5}] at (493pt,-690pt) {(i)};

% ---------------- (j) lollipop ----------------
\begin{axis}[scale only axis, at={(246.5pt,-703.7pt)}, anchor=north west, width=220.5pt, height=322.6pt,
  xmin=-0.533, xmax=0.53, ymin=0.5, ymax=22.5,
  axis background/.style={fill=gray!16},
  axis line style={draw=none},
  xtick={-0.4,-0.2,0,0.2,0.4}, xticklabels={−0.4,−0.2,0.0,0.2,0.4},
  ytick={1,...,22},
  yticklabels={Macrophages M1, T cells CD4 memory resting, Mast cells resting, Monocytes, Macrophages M2, Eosinophils, NK cells resting, T cells CD4 naive, Dendritic cells resting, Dendritic cells activated, Neutrophils, B cells memory, B cells naive, Mast cells activated, T cells gamma delta, Plasma cells, NK cells activated, T cells CD4 memory activated, T cells follicular helper, T cells CD8, Macrophages M0, T cells regulatory (Tregs)},
  minor ytick={1.5,2.5,...,21.5},
  xmajorgrids=true, ymajorgrids=false, yminorgrids=true,
  major grid style={white, line width=1.2pt}, minor grid style={white, line width=1.6pt},
  major tick length=0pt, minor tick length=0pt,
  xticklabel style={font=\fs{10}, text=black!75},
  yticklabel style={font=\fs{10.5}, xshift=-2pt},
  xlabel={Correlation coefficient}, xlabel style={font=\fs{10.5}},
  clip=false]
\addplot[xbar, bar width=2.2pt, fill=black, draw=none] table[x=cor,y=pos]{\lolS};
\addplot[scatter, only marks, mark=*, scatter/use mapped color={draw=pc0, fill=pc0}, visualization depends on={\thisrow{r} \as \dotr}, scatter/@pre marker code/.append style={/tikz/mark size=\dotr pt}] table[x=cor,y=pos]{\kA};
\addplot[scatter, only marks, mark=*, scatter/use mapped color={draw=pc2, fill=pc2}, visualization depends on={\thisrow{r} \as \dotr}, scatter/@pre marker code/.append style={/tikz/mark size=\dotr pt}] table[x=cor,y=pos]{\kB};
\addplot[scatter, only marks, mark=*, scatter/use mapped color={draw=pc4, fill=pc4}, visualization depends on={\thisrow{r} \as \dotr}, scatter/@pre marker code/.append style={/tikz/mark size=\dotr pt}] table[x=cor,y=pos]{\kC};
\addplot[scatter, only marks, mark=*, scatter/use mapped color={draw=pc6, fill=pc6}, visualization depends on={\thisrow{r} \as \dotr}, scatter/@pre marker code/.append style={/tikz/mark size=\dotr pt}] table[x=cor,y=pos]{\kD};
\addplot[scatter, only marks, mark=*, scatter/use mapped color={draw=pc8, fill=pc8}, visualization depends on={\thisrow{r} \as \dotr}, scatter/@pre marker code/.append style={/tikz/mark size=\dotr pt}] table[x=cor,y=pos]{\kE};
\end{axis}
% p-value column
\begin{axis}[scale only axis, at={(246.5pt,-703.7pt)}, anchor=north west, width=220.5pt, height=322.6pt,
  xmin=-0.533, xmax=0.53, ymin=0.5, ymax=22.5, axis line style={draw=none},
  xtick=\empty, major tick length=0pt, ytick={1,...,22}, yticklabel pos=right,
  yticklabels={\textcolor{pr}{<0.001}, \textcolor{pr}{<0.001}, \textcolor{pr}{<0.001}, \textcolor{pr}{<0.001}, \textcolor{pr}{0.011}, \textcolor{pr}{0.026}, 0.118, 0.244, 0.260, 0.422, 0.538, 0.983, 0.964, 0.626, 0.492, 0.214, \textcolor{pr}{0.028}, \textcolor{pr}{0.013}, \textcolor{pr}{0.005}, \textcolor{pr}{<0.001}, \textcolor{pr}{<0.001}, \textcolor{pr}{<0.001}},
  yticklabel style={anchor=east, xshift=38.5pt, font=\fs{10.5}}]
\addplot[draw=none] coordinates {(0,1)};
\end{axis}
% size legend
\begin{axis}[scale only axis, at={(517pt,-780.25pt)}, anchor=north west, width=13pt, height=70.5pt,
  xmin=-1, xmax=1, ymin=0.5, ymax=5.5, y dir=reverse, axis line style={draw=none},
  xtick=\empty, ytick={1,...,5}, yticklabels={0.1,0.2,0.3,0.4,0.5}, yticklabel pos=right,
  major tick length=0pt, yticklabel style={font=\fs{10.5}, xshift=4.5pt}, clip=false]
\addplot[scatter, only marks, mark=*, scatter/use mapped color={draw=black, fill=black}, visualization depends on={\thisrow{r} \as \dotr}, scatter/@pre marker code/.append style={/tikz/mark size=\dotr pt}] table[x=x,y=y]{\szleg};
\end{axis}
\node[anchor=base west, font=\fs{10.5}, inner sep=0pt] at (515pt,-773.5pt) {abs (cor)};
% colour bar
\begin{axis}[scale only axis, at={(517pt,-933.3pt)}, anchor=north west, width=20pt, height=74pt,
  xmin=0, xmax=1, ymin=0, ymax=1, y dir=reverse, axis line style={draw=none},
  xtick=\empty, ytick={0,0.2,0.4,0.6,0.8,1}, yticklabels={0,0.2,0.4,0.6,0.8,1}, yticklabel pos=right,
  major tick length=0pt, yticklabel style={font=\fs{10.5}}]
\addplot[fill=pc0, draw=none] coordinates {(0,0) (1,0) (1,0.2) (0,0.2)};
\addplot[fill=pc2, draw=none] coordinates {(0,0.2) (1,0.2) (1,0.4) (0,0.4)};
\addplot[fill=pc4, draw=none] coordinates {(0,0.4) (1,0.4) (1,0.6) (0,0.6)};
\addplot[fill=pc6, draw=none] coordinates {(0,0.6) (1,0.6) (1,0.8) (0,0.8)};
\addplot[fill=pc8, draw=none] coordinates {(0,0.8) (1,0.8) (1,1) (0,1)};
\end{axis}
\node[anchor=base west, font=\fs{10.5}, inner sep=0pt] at (511pt,-920pt) {\textit{P}-value};
\node[font=\fs{10.5}] at (327.6pt,-1071pt) {(j)};
\end{tikzpicture}
\end{document}
